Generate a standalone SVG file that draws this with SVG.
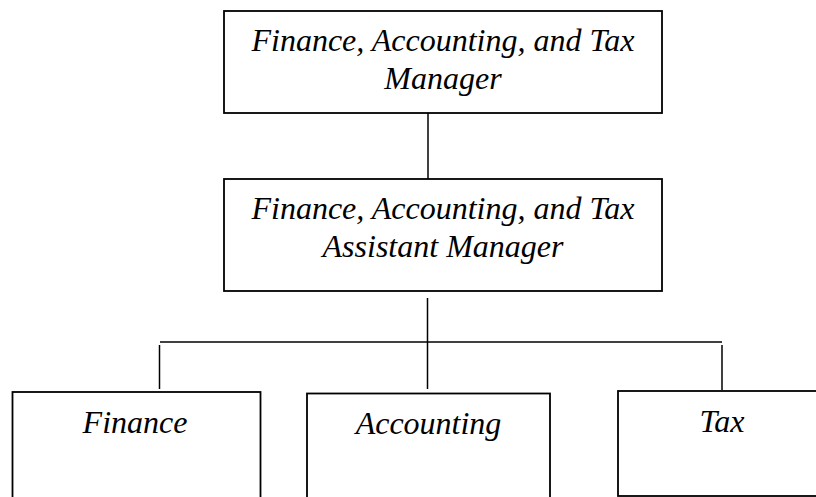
<svg xmlns="http://www.w3.org/2000/svg" width="816" height="497" viewBox="0 0 816 497">
<style>
.box{fill:#fff;stroke:#000;stroke-width:1.8}
.ln{stroke:#000;stroke-width:1.5;fill:none}
text{font-family:"Liberation Serif","Times New Roman",serif;font-style:italic;font-size:32px;fill:#000;text-anchor:middle}
</style>
<rect width="816" height="497" fill="#fff"/>
<g id="connectors">
<line class="ln" x1="428" y1="113" x2="428" y2="179"/>
<line class="ln" x1="427.5" y1="298" x2="427.5" y2="389"/>
<line class="ln" x1="160" y1="342" x2="722" y2="342"/>
<line class="ln" x1="159.5" y1="345" x2="159.5" y2="389"/>
<line class="ln" x1="722" y1="345" x2="722" y2="390"/>
</g>
<g id="manager">
<rect class="box" x="224" y="11" width="438" height="102"/>
<text x="443" y="51">Finance, Accounting, and Tax</text>
<text x="443" y="89">Manager</text>
</g>
<g id="assistant">
<rect class="box" x="224" y="179" width="438" height="112"/>
<text x="443" y="219">Finance, Accounting, and Tax</text>
<text x="443" y="257">Assistant Manager</text>
</g>
<g id="finance">
<rect class="box" x="12.5" y="392" width="248" height="120"/>
<text x="135" y="433">Finance</text>
</g>
<g id="accounting">
<rect class="box" x="307" y="393.5" width="243" height="120"/>
<text x="428.5" y="434">Accounting</text>
</g>
<g id="tax">
<rect class="box" x="618" y="391" width="210" height="105"/>
<text x="722" y="432">Tax</text>
</g>
</svg>
